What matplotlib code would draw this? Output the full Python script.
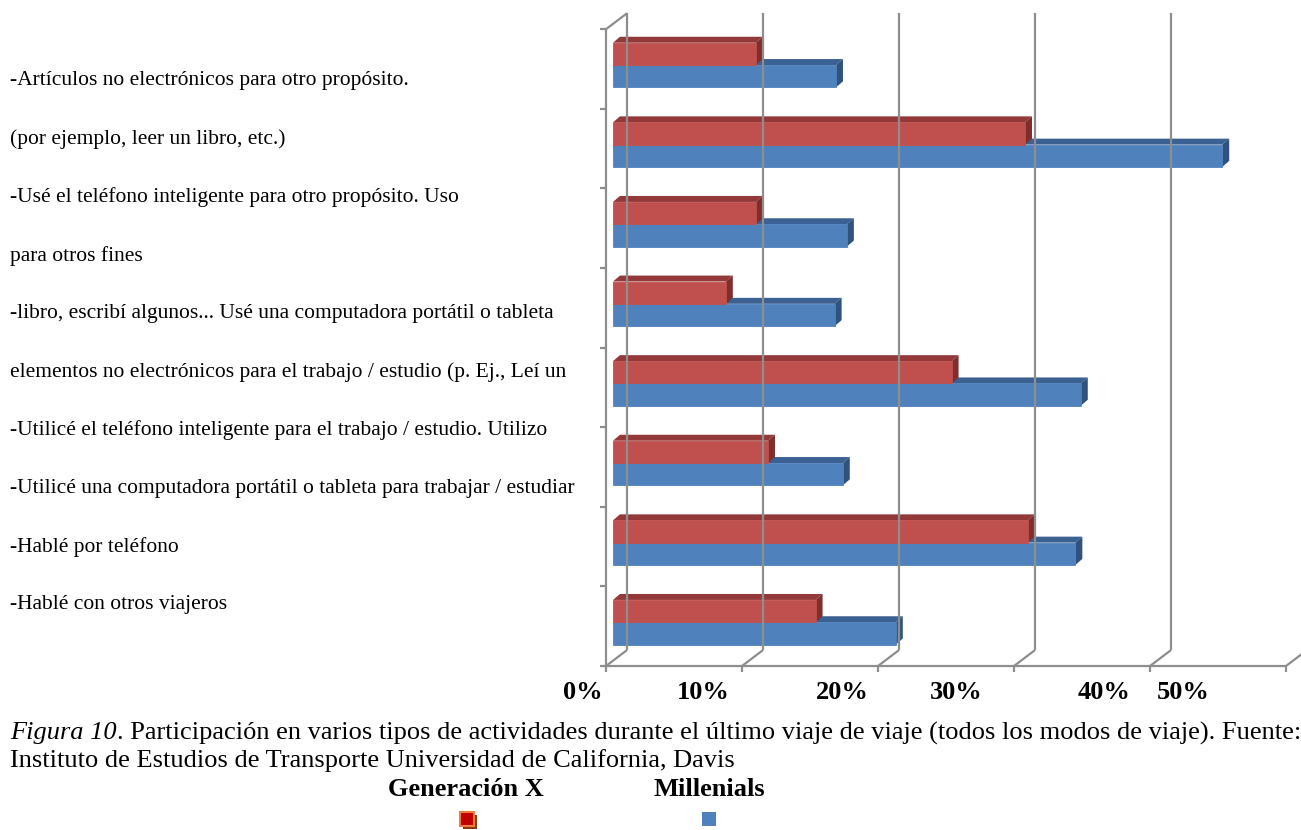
#! /usr/bin/env python3

#Load packages for building the figure
import matplotlib
matplotlib.use("Agg")
import matplotlib.pyplot as plt
from matplotlib.patches import Polygon, Rectangle

#Data (bottom category first)
gen_x = [14.9, 30.5, 11.4, 24.9, 8.3, 10.5, 30.3, 10.5]
millenials = [20.8, 34.0, 16.9, 34.4, 16.3, 17.2, 44.8, 16.4]
series_names = ["Generación X", "Millenials"]
tick_labels = ["0%", "10%", "20%", "30%", "40%", "50%"]
left_lines = [
    "-Artículos no electrónicos para otro propósito.",
    "(por ejemplo, leer un libro, etc.)",
    "-Usé el teléfono inteligente para otro propósito. Uso",
    "para otros fines",
    "-libro, escribí algunos... Usé una computadora portátil o tableta",
    "elementos no electrónicos para el trabajo / estudio (p. Ej., Leí un",
    "-Utilicé el teléfono inteligente para el trabajo / estudio. Utilizo",
    "-Utilicé una computadora portátil o tableta para trabajar / estudiar",
    "-Hablé por teléfono",
    "-Hablé con otros viajeros",
]

W, H = 1301, 830
FONT = "Liberation Serif"
GRID = "#8e8e8e"

#Colours for front, top and side of each series
red_faces = ("#c0504d", "#93393a", "#7f2e2c")
blue_faces = ("#4f81bd", "#3b6192", "#30527f")

#Depth of the bars and of the walls, in data units
BAR_DX, BAR_DY = 0.51, 0.075
WALL_FRONT, WALL_BACK = -0.515, 1.03
FLOOR_DY, TOP = 0.2, 8.0


def fx(px):
    return px / W


def fy(py):
    return 1 - py / H


#Draws one bar as front face, top face and side face
def bar3d(ax, y0, h, v, faces):
    front, top, side = faces
    ax.add_patch(Polygon([(0, y0 + h), (BAR_DX, y0 + h + BAR_DY),
                          (v + BAR_DX, y0 + h + BAR_DY), (v, y0 + h)],
                         closed=True, facecolor=top, edgecolor="none"))
    ax.add_patch(Polygon([(v, y0), (v + BAR_DX, y0 + BAR_DY),
                          (v + BAR_DX, y0 + h + BAR_DY), (v, y0 + h)],
                         closed=True, facecolor=side, edgecolor="none"))
    ax.add_patch(Rectangle((0, y0), v, h, facecolor=front,
                           edgecolor=front, linewidth=0.6))


#Draws walls, floor and gridlines of the 3D frame
def draw_frame(ax, n):
    kw = dict(color=GRID, linewidth=1.6, solid_capstyle="butt", clip_on=False)
    ax.plot([WALL_FRONT, WALL_FRONT], [0, TOP], **kw)
    ax.plot([WALL_FRONT, WALL_BACK], [TOP, TOP + FLOOR_DY], **kw)
    for k in range(n + 1):
        ax.plot([WALL_FRONT - 0.45, WALL_FRONT], [k, k], **kw)
    for k in range(6):
        ax.plot([WALL_BACK + 10 * k] * 2, [FLOOR_DY, TOP + FLOOR_DY], **kw)
        ax.plot([WALL_FRONT + 10 * k, WALL_BACK + 10 * k], [0, FLOOR_DY], **kw)
        ax.plot([WALL_FRONT + 10 * k] * 2, [0, -0.075], **kw)
    ax.plot([WALL_FRONT, WALL_FRONT + 50], [0, 0], **kw)


def make_chart():
    fig = plt.figure(figsize=(W / 100, H / 100), dpi=100)
    ax = fig.add_axes([0, 0, 1, 1])
    #Scale: 0% at pixel 613, 10% every 136 px; one category every 79.6 px
    ax.set_xlim(-613 / 13.6, (W - 613) / 13.6)
    ax.set_ylim((666 - H) / 79.6, 666 / 79.6)
    ax.axis("off")

    n = len(gen_x)
    draw_frame(ax, n)
    for i in range(n):
        bar3d(ax, i + 0.27, 0.28, millenials[i], blue_faces)
        bar3d(ax, i + 0.55, 0.28, gen_x[i], red_faces)

    #Left text lines
    for j, line in enumerate(left_lines):
        fig.text(fx(10), fy(81 + 58.2 * j), line, family=FONT, fontsize=15.5,
                 va="center", ha="left")

    #Percent labels under the floor
    for lab, px in zip(tick_labels, [583, 703, 842, 956, 1104, 1183]):
        fig.text(fx(px), fy(692), lab, family=FONT, fontsize=19,
                 fontweight="bold", ha="center", va="center")

    #Caption: italic figure number, then the rest right after it
    fig_num = fig.text(fx(10), fy(733), "Figura 10", family=FONT, fontsize=19,
                       style="italic", va="center")
    renderer = fig.canvas.get_renderer()
    end_px = fig_num.get_window_extent(renderer).x1
    fig.text(end_px / W, fy(733), ". Participación en varios tipos de actividades "
             "durante el último viaje de viaje (todos los modos de viaje). Fuente:",
             family=FONT, fontsize=19, va="center")
    fig.text(fx(10), fy(761), "Instituto de Estudios de Transporte Universidad de "
             "California, Davis", family=FONT, fontsize=19, va="center")

    #Legend
    fig.text(fx(466), fy(789), series_names[0], family=FONT, fontsize=19,
             fontweight="bold", ha="center", va="center")
    fig.text(fx(709), fy(789), series_names[1], family=FONT, fontsize=19,
             fontweight="bold", ha="center", va="center")
    fig.add_artist(Rectangle((fx(463), fy(829)), 14 / W, 14 / H,
                             transform=fig.transFigure, facecolor="#8b3a0f",
                             edgecolor="none"))
    fig.add_artist(Rectangle((fx(460), fy(826)), 14 / W, 14 / H,
                             transform=fig.transFigure, facecolor="#c00000",
                             edgecolor="#f07b3f", linewidth=1.5))
    fig.add_artist(Rectangle((fx(702), fy(826)), 14 / W, 14 / H,
                             transform=fig.transFigure, facecolor="#4f81bd",
                             edgecolor="none"))

    fig.savefig("out.png", dpi=100)


if __name__ == '__main__':
    make_chart()
